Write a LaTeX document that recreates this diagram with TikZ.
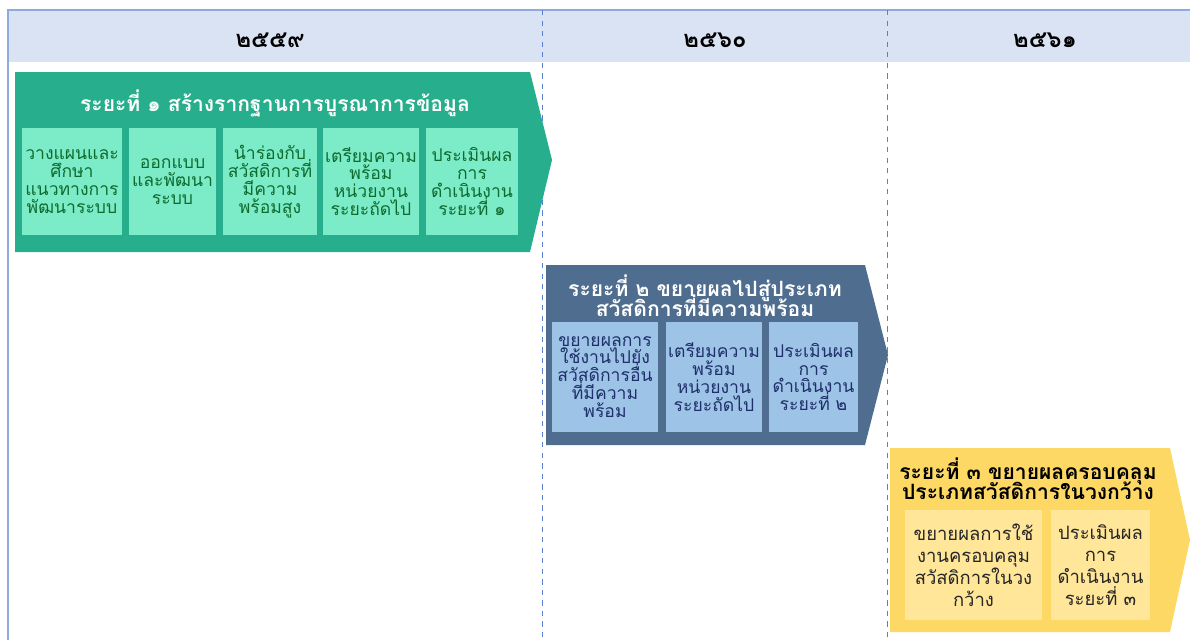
\documentclass[tikz,border=0pt]{standalone}
\usepackage{fontspec}
\newfontfamily\thai[Script=Thai]{Loma}
\newcommand\tightlines{\lineskiplimit=-20pt\relax}
\definecolor{headfill}{HTML}{DAE3F3}
\definecolor{frameline}{HTML}{8FAADC}
\definecolor{gridline}{HTML}{5B7FD0}
\definecolor{teal1}{HTML}{27AE8C}
\definecolor{mint1}{HTML}{7BEBC8}
\definecolor{green1}{HTML}{0F6B2E}
\definecolor{slate2}{HTML}{4E6D8F}
\definecolor{sky2}{HTML}{9DC3E6}
\definecolor{navy2}{HTML}{1F2F6B}
\definecolor{gold3}{HTML}{FDD865}
\definecolor{cream3}{HTML}{FFE699}
\begin{document}
\begin{tikzpicture}[x=0.02cm,y=-0.02cm,
  yearlbl/.style={font={\thai\bfseries\fontsize{13.5}{15}\selectfont}},
  phasettl/.style={align=center,font={\thai\bfseries\fontsize{12}{11.2}\selectfont\tightlines}},
  stepbox/.style={rectangle,align=center,inner sep=1pt,minimum height=#1,font={\thai\fontsize{10}{10.2}\selectfont\tightlines}}]
\useasboundingbox (0,0) rectangle (1190,640);
% header and frame
\fill[headfill] (8,10) rectangle (1190,62);
\draw[frameline,thick] (8,640) -- (8,10) -- (1190,10);
\draw[gridline,dashed] (542,10) -- (542,640);
\draw[gridline,dashed] (887,10) -- (887,640);
\node[yearlbl] (Y1) at (270,40) {๒๕๕๙};
\node[yearlbl] (Y2) at (715,40) {๒๕๖๐};
\node[yearlbl] (Y3) at (1045,40) {๒๕๖๑};
% phase 1
\fill[teal1] (15,72) -- (530,72) -- (552,160) -- (530,252) -- (15,252) -- cycle;
\node[phasettl,text=white] (P1) at (275,103) {ระยะที่ ๑ สร้างรากฐานการบูรณาการข้อมูล};
\node[stepbox=2.14cm,fill=mint1,text=green1,minimum width=2.00cm] (A1) at (72,181.5) {วางแผนและ\\ศึกษา\\แนวทางการ\\พัฒนาระบบ};
\node[stepbox=2.14cm,fill=mint1,text=green1,minimum width=1.74cm] (A2) at (172.5,181.5) {ออกแบบ\\และพัฒนา\\ระบบ};
\node[stepbox=2.14cm,fill=mint1,text=green1,minimum width=1.88cm] (A3) at (270,181.5) {นำร่องกับ\\สวัสดิการที่\\มีความ\\พร้อมสูง};
\node[stepbox=2.14cm,fill=mint1,text=green1,minimum width=1.88cm] (A4) at (371,181.5) {เตรียมความ\\พร้อม\\หน่วยงาน\\ระยะถัดไป};
\node[stepbox=2.14cm,fill=mint1,text=green1,minimum width=1.84cm] (A5) at (472,181.5) {ประเมินผล\\การ\\ดำเนินงาน\\ระยะที่ ๑};
% phase 2
\fill[slate2] (546,265) -- (865,265) -- (888,355) -- (865,445) -- (546,445) -- cycle;
\node[phasettl,text=white] (P2) at (705,296) {ระยะที่ ๒ ขยายผลไปสู่ประเภท\\สวัสดิการที่มีความพร้อม};
\node[stepbox=2.2cm,fill=sky2,text=navy2,minimum width=2.12cm] (B1) at (605,377) {ขยายผลการ\\ใช้งานไปยัง\\สวัสดิการอื่น\\ที่มีความ\\พร้อม};
\node[stepbox=2.2cm,fill=sky2,text=navy2,minimum width=1.92cm] (B2) at (714,377) {เตรียมความ\\พร้อม\\หน่วยงาน\\ระยะถัดไป};
\node[stepbox=2.2cm,fill=sky2,text=navy2,minimum width=1.78cm] (B3) at (813.5,377) {ประเมินผล\\การ\\ดำเนินงาน\\ระยะที่ ๒};
% phase 3
\fill[gold3] (890,448) -- (1170,448) -- (1190,540) -- (1170,632) -- (890,632) -- cycle;
\node[phasettl,text=black] (P3) at (1028,479) {ระยะที่ ๓ ขยายผลครอบคลุม\\ประเภทสวัสดิการในวงกว้าง};
\node[stepbox=2.2cm,fill=cream3,text=black!85,minimum width=2.74cm,font={\thai\fontsize{10.5}{12.5}\selectfont}] (C1) at (973.5,565) {ขยายผลการใช้\\งานครอบคลุม\\สวัสดิการในวง\\กว้าง};
\node[stepbox=2.2cm,fill=cream3,text=black!85,minimum width=1.98cm,font={\thai\fontsize{10.5}{12.5}\selectfont}] (C2) at (1100.5,565) {ประเมินผล\\การ\\ดำเนินงาน\\ระยะที่ ๓};
\end{tikzpicture}
\end{document}
